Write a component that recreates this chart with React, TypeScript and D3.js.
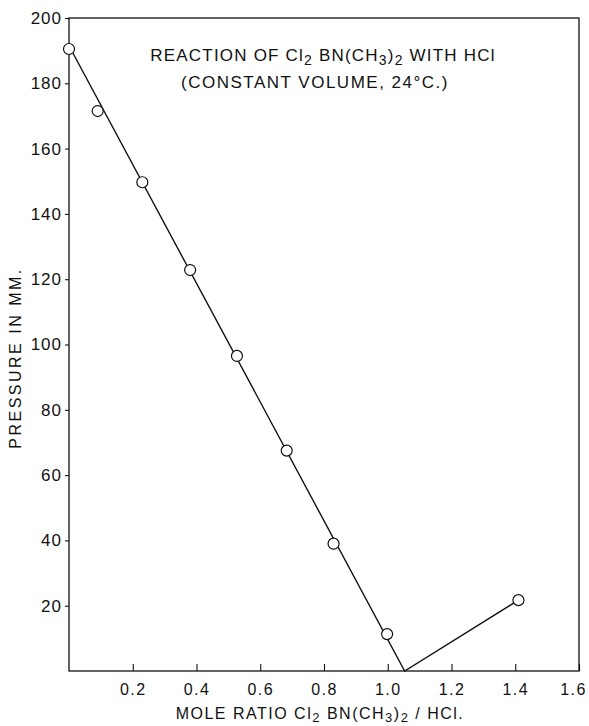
import * as d3 from 'd3';
import React, { useEffect, useRef } from 'react';

// measured points (mole ratio, pressure mm)
const ratios = [0, 0.09, 0.23, 0.38, 0.527, 0.683, 0.83, 0.998, 1.41];
const pressures = [190.5, 171.5, 149.7, 122.8, 96.5, 67.5, 39, 11.3, 21.7];

// the two straight fitted lines
const fitX = [0, 1.053, 1.41];
const fitY = [191.5, 0, 21.7];

const xTicks = [0.2, 0.4, 0.6, 0.8, 1.0, 1.2, 1.4, 1.6];
const yTicks = [20, 40, 60, 80, 100, 120, 140, 160, 180, 200];

const font = '"Liberation Sans", "DejaVu Sans", sans-serif';

export default function App(): React.JSX.Element {
	const ref = useRef<SVGSVGElement | null>(null);

	useEffect(() => {
		if (ref.current === null) return;
		const svg = d3.select(ref.current);
		svg.selectAll('*').remove();

		const margin = { top: 18, right: 10, bottom: 55, left: 69 };
		const width = 589;
		const height = 726;

		const x = d3.scaleLinear().domain([0, 1.6]).range([margin.left, width - margin.right]);
		const y = d3.scaleLinear().domain([0, 200]).range([height - margin.bottom, margin.top]);

		const g = svg.append('g').attr('fill', '#111').style('font-family', font);

		// frame
		g.append('rect')
			.attr('x', x(0))
			.attr('y', y(200))
			.attr('width', x(1.6) - x(0))
			.attr('height', y(0) - y(200))
			.attr('fill', 'none')
			.attr('stroke', '#111')
			.attr('stroke-width', 1.3);

		// x axis: ticks point inward
		const xAxis = g.append('g')
			.attr('transform', `translate(0, ${y(0)})`)
			.call(d3.axisBottom(x).tickValues(xTicks).tickSize(-7).tickPadding(13).tickFormat(d3.format('.1f')));
		xAxis.select('.domain').remove();
		xAxis.selectAll('line').attr('stroke', '#111').attr('stroke-width', 1.1);
		xAxis.selectAll<SVGTextElement, number>('text')
			.attr('font-size', 16)
			.attr('fill', '#111')
			.attr('dx', (d) => (d === 1.6 ? -6 : 0))
			.style('font-family', font)
			.style('letter-spacing', '1.5px');

		// y axis: short outward ticks
		const yAxis = g.append('g')
			.attr('transform', `translate(${x(0)}, 0)`)
			.call(d3.axisLeft(y).tickValues(yTicks).tickSize(4).tickPadding(3));
		yAxis.select('.domain').remove();
		yAxis.selectAll('line').attr('stroke', '#111').attr('stroke-width', 1.1);
		yAxis.selectAll('text')
			.attr('font-size', 17)
			.attr('fill', '#111')
			.style('font-family', font)
			.style('letter-spacing', '1px');

		// fitted lines
		const line = d3.line<number>()
			.x((d) => x(d))
			.y((_, i) => y(fitY[i]));
		g.append('path')
			.datum(fitX)
			.attr('d', line)
			.attr('fill', 'none')
			.attr('stroke', '#111')
			.attr('stroke-width', 1.4);

		// points
		g.selectAll('circle.pt')
			.data(ratios)
			.enter()
			.append('circle')
			.attr('class', 'pt')
			.attr('cx', (d) => x(d))
			.attr('cy', (_, i) => y(pressures[i]))
			.attr('r', 5.5)
			.attr('fill', '#fff')
			.attr('stroke', '#111')
			.attr('stroke-width', 1.2);

		// title
		const t1 = g.append('text')
			.attr('x', 323)
			.attr('y', 61)
			.attr('text-anchor', 'middle')
			.attr('font-size', 17)
			.style('letter-spacing', '1.2px');
		t1.append('tspan').text('REACTION OF Cl');
		t1.append('tspan').attr('dy', 4).attr('font-size', 14).text('2');
		t1.append('tspan').attr('dy', -4).text(' BN(CH');
		t1.append('tspan').attr('dy', 4).attr('font-size', 14).text('3');
		t1.append('tspan').attr('dy', -4).text(')');
		t1.append('tspan').attr('dy', 4).attr('font-size', 14).text('2');
		t1.append('tspan').attr('dy', -4).text(' WITH HCl');

		g.append('text')
			.attr('x', 315)
			.attr('y', 88)
			.attr('text-anchor', 'middle')
			.attr('font-size', 17)
			.style('letter-spacing', '1.5px')
			.text('(CONSTANT VOLUME, 24°C.)');

		// x label
		const xl = g.append('text')
			.attr('x', 320)
			.attr('y', 719)
			.attr('text-anchor', 'middle')
			.attr('font-size', 16)
			.style('letter-spacing', '1.5px');
		xl.append('tspan').text('MOLE RATIO  Cl');
		xl.append('tspan').attr('dy', 3).attr('font-size', 13).text('2');
		xl.append('tspan').attr('dy', -3).text(' BN(CH');
		xl.append('tspan').attr('dy', 3).attr('font-size', 13).text('3');
		xl.append('tspan').attr('dy', -3).text(')');
		xl.append('tspan').attr('dy', 3).attr('font-size', 13).text('2');
		xl.append('tspan').attr('dy', -3).text(' / HCl.');

		// y label
		g.append('text')
			.attr('transform', `translate(21, 358) rotate(-90)`)
			.attr('text-anchor', 'middle')
			.attr('font-size', 16)
			.style('letter-spacing', '2.5px')
			.text('PRESSURE IN MM.');
	}, []);

	return (
		<svg
			ref={ref}
			width={589}
			height={726}
			style={{ position: 'absolute', left: 0, top: 0, background: '#fff' }}
		/>
	);
}
